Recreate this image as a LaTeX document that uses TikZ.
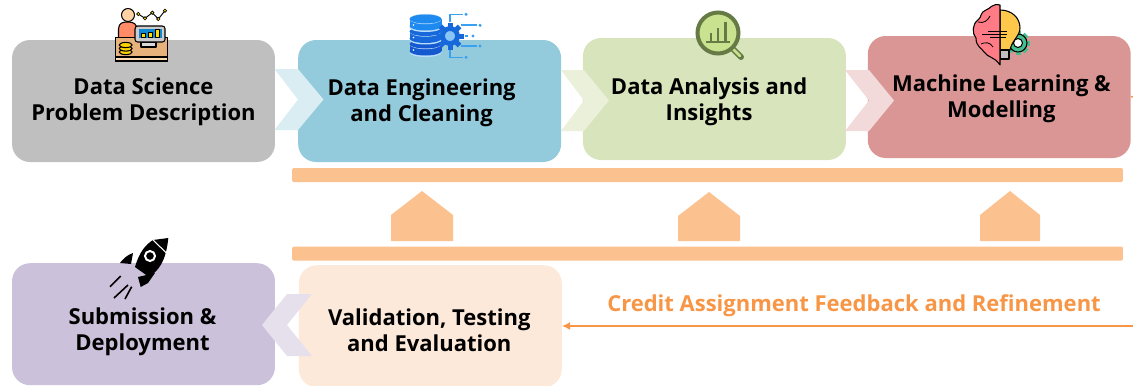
\documentclass[tikz,border=0pt]{standalone}
\usepackage{fontspec}
\setmainfont{Open Sans}
\usepackage{tikz}
\usetikzlibrary{positioning}
\usetikzlibrary{arrows.meta}
\definecolor{probBody}{HTML}{BFBFBF}
\definecolor{engBody}{HTML}{93CBDD}
\definecolor{anaBody}{HTML}{D8E4BC}
\definecolor{mlBody}{HTML}{DA9694}
\definecolor{subBody}{HTML}{CCC1DA}
\definecolor{valBody}{HTML}{FDE9D9}
\definecolor{loopBar}{HTML}{FBC290}
\definecolor{loopLine}{HTML}{F79646}
\definecolor{lensBorder}{HTML}{667A45}
\definecolor{lensBody}{HTML}{C8E28F}
\definecolor{brainBody}{HTML}{FF7B85}
\definecolor{bulbBody}{HTML}{FFC84A}
\definecolor{gearBody}{HTML}{45BE8F}
\definecolor{dbDark}{HTML}{1459D0}
\definecolor{dbLight}{HTML}{1E8AF0}
\definecolor{dbLine}{HTML}{3AA0F0}
\tikzstyle{stage} = [rectangle, rounded corners=13.5pt, minimum width=197.2pt, minimum height=91.5pt, inner sep=0pt]
\tikzstyle{stagetext} = [align=center, font={\fontsize{16.5}{19.5}\selectfont\bfseries}]
\tikzstyle{chevron} = [line width=0pt]
\tikzstyle{feedback} = [loopBar]
\tikzstyle{loopbar} = [rectangle, rounded corners=1pt, fill=loopBar, minimum width=623pt, minimum height=10.5pt, inner sep=0pt]
\tikzstyle{outline} = [draw=black, line width=0.8pt, line join=round]
\begin{document}
\begin{tikzpicture}[x=0.75pt, y=-0.75pt]
    \useasboundingbox (0,0) rectangle (1133,386);
    % stages
    \node [stage, fill=probBody, label={[stagetext, yshift=-0.75pt]center:Data Science\\Problem Description}] (problem) at (143.5,101) {};
    \node [stage, fill=engBody, right=17pt of problem, label={[stagetext, xshift=-6pt, yshift=-1.1pt]center:Data Engineering\\and Cleaning}] (engineering) {};
    \node [stage, fill=anaBody, right=16pt of engineering, yshift=1.5pt, label={[stagetext, xshift=-4pt, yshift=-2.2pt]center:Data Analysis and\\Insights}] (analysis) {};
    \node [stage, fill=mlBody, right=16pt of analysis, yshift=1.5pt, label={[stagetext, xshift=1.6pt, yshift=-1.5pt]center:Machine Learning \&\\Modelling}] (modelling) {};
    \node [stage, fill=subBody, below=75.5pt of problem, label={[stagetext, xshift=-0.75pt, yshift=-6pt]center:Submission \&\\Deployment}] (submission) {};
    \node [stage, fill=valBody, right=17.5pt of submission, yshift=-1.5pt, label={[stagetext, xshift=-0.75pt, yshift=-3pt]center:Validation, Testing\\and Evaluation}] (validation) {};
    % chevrons
    \fill [chevron, fill=engBody!35] (274.5,69) -- (298,69) -- (323.5,99.5) -- (298,130) -- (274.5,130) -- (298,99.5) -- cycle;
    \fill [chevron, fill=anaBody!55] (561,70) -- (584,70) -- (609,100.5) -- (584,131) -- (561,131) -- (584,100.5) -- cycle;
    \fill [chevron, fill=mlBody!35] (845,70) -- (869,70) -- (894,100.5) -- (869,131) -- (845,131) -- (869,100.5) -- cycle;
    \fill [chevron, fill=subBody!50] (312,294) -- (287,294) -- (262,325) -- (287,356) -- (312,356) -- (287,325) -- cycle;
    % feedback bars
    \node [loopbar] (bartop) at (707.5,175) {};
    \node [loopbar] (barbottom) at (707.5,253.5) {};
    \fill [feedback] (391,241) -- (391,215) -- (422,191) -- (453,215) -- (453,241) -- cycle;
    \fill [feedback] (678,241) -- (678,216) -- (709,192) -- (740,216) -- (740,241) -- cycle;
    \fill [feedback] (980,241) -- (980,215) -- (1010,191) -- (1040,215) -- (1040,241) -- cycle;
    \node [text=loopLine, font={\fontsize{16.5}{19}\selectfont\bfseries}] (credit) at (854,306) {Credit Assignment Feedback and Refinement};
    \coordinate (loopout) at (1133,96.5);
    \coordinate (loopin) at (1133,326);
    \draw [loopLine, line width=1.1pt] (modelling.east) -- (loopout);
    \draw [-{Latex[length=6pt,width=6pt]}, loopLine, line width=1.1pt] (loopin) -- (validation.east |- loopin);
    % data scientist icon
    \draw [outline, fill=orange!35!white] (128,15) circle (6.5);
    \draw [outline, fill=red!50!orange!60!white] (118.5,38) -- (118.5,29) .. controls (119,23) and (122,22) .. (128,22) .. controls (134,22) and (137,24) .. (137,30) -- (137,38) -- cycle;
    \draw [black, line width=0.7pt] (138.3,14) -- (145,18.3) -- (152.3,12.7) -- (158.3,19) -- (165,10.7);
    \foreach \dotx/\doty in {138.3/14,145/18.3,152.3/12.7,158.3/19,165/10.7}
        \draw [black, line width=0.5pt, fill=yellow!70!orange] (\dotx,\doty) circle (1.7);
    \draw [outline, fill=brown!60!orange!60!white] (115.5,37.5) rectangle (167.5,61);
    \draw [outline, fill=orange!30!white] (115.5,57) rectangle (167.5,61);
    \draw [outline, fill=gray!30] (141,42) rectangle (156,47);
    \draw [outline, fill=gray!40] (135,26) [rounded corners=2pt] rectangle (165,42);
    \fill [cyan!70!blue] (139,28.5) rectangle (161.5,38);
    \foreach \barx/\bary in {141/33,148/32.5,155.5/29}
        \draw [black, line width=0.4pt, fill=yellow!80!orange] (\barx,37.5) rectangle ++(4.2,\bary-37.5);
    \foreach \coiny in {52,48.5,45}
        \draw [outline, fill=yellow!70!orange] (125.7,\coiny) ellipse (6.5 and 2.6);
    % database icon
    \foreach \cyly/\cylcol in {44/dbDark, 31.5/dbDark!70!dbLight, 19/dbLight}{
        \fill [white!70!dbLight] (425.5,\cyly+8.5) ellipse (16 and 4.5);
        \fill [\cylcol] (425.5,\cyly+7) ellipse (16 and 4.5);
        \fill [\cylcol] (409.5,\cyly) rectangle (441.5,\cyly+7);
        \fill [white!70!dbLight] (425.5,\cyly) ellipse (16 and 5.2);
        \fill [\cylcol] (425.5,\cyly) ellipse (16 and 4.5);
    }
    \foreach \cyly in {25,37.5,50}
        \fill [white] (413.5,\cyly) circle (0.9);
    \draw [dbLine, line width=1pt] (450,22) -- (450,14.3) -- (463,14.3);
    \draw [dbLine, line width=1pt] (450,50) -- (450,57.3) -- (463,57.3);
    \draw [dbLine, line width=1pt] (461,25) -- (477,25);
    \draw [dbLine, line width=1pt] (465,36) -- (468,36);
    \draw [dbLine, line width=1pt] (461,46) -- (477,46);
    \foreach \dotx/\doty in {466/14.3,480/25.3,473/36,480/46,466/57.3}
        \fill [dbLine] (\dotx,\doty) circle (1.7);
    \foreach \toothang in {0,45,...,315}
        \fill [dbDark!70!dbLight, rotate around={\toothang:(450,36)}] (447.5,22.5) rectangle (452.5,30);
    \draw [dbDark!70!dbLight, line width=3.6pt, fill=dbLine!60!white] (450,36) circle (7.5);
    % magnifier icon
    \draw [line cap=round, line width=4.5pt, lensBorder] (732,48) -- (741,57);
    \draw [line cap=round, line width=2pt, lensBody] (733,49) -- (740,56);
    \draw [line width=3pt, draw=lensBorder, fill=lensBody] (718,33) circle (20.5);
    \draw [line width=2pt, draw=lensBorder] (706,42) -- (730,42)
        (711,42) -- (711,33) (718,42) -- (718,28) (725.6,42) -- (725.6,22);
    % brain and bulb icon
    \foreach \toothang in {0,45,...,315}
        \fill [gearBody, rotate around={\toothang:(1018,43)}] (1015.5,31) rectangle (1020.5,36);
    \draw [outline, fill=gearBody] (1018,43) circle (9);
    \draw [outline, fill=white] (1018,43) circle (4.5);
    \draw [outline, fill=bulbBody] (1000,10) .. controls (1012,10) and (1020,18) .. (1020,28) .. controls (1020,36) and (1012,40) .. (1010,50) -- (1000,50) -- cycle;
    \draw [outline, fill=gray!50] (1000,50) rectangle (1009,59);
    \draw [outline, fill=brainBody] (1000,5) .. controls (992,3) and (990,9) .. (986,10) .. controls (980,12) and (982,17) .. (978,20)
        .. controls (972,24) and (972,34) .. (976,38) .. controls (976,47) and (982,48) .. (984,52) .. controls (988,58) and (994,56) .. (1000,65) -- cycle;
    \draw [black, line width=0.7pt] (982,34) -- (1007,34) (988,31) -- (1007,31) (990,37) -- (1006,37);
    \draw [black, line width=0.6pt] (978,22) .. controls (984,24) and (988,20) .. (990,16) (981,44) .. controls (985,42) and (990,42) .. (993,47);
    % rocket icon
    \fill [black] (133,253) .. controls (127,255) and (123,259) .. (120,263) -- (131,264) -- cycle;
    \fill [black] (155,273) -- (148,283) -- (140.7,287) -- (138,277) -- cycle;
    \fill [black] (168.3,238) -- (153,240) .. controls (145,245) and (139,253) .. (135,267) -- (149,277)
        .. controls (158,271) and (166,262) .. (168.3,238) -- cycle;
    \draw [white, line width=0.8pt] (153,240) -- (167.5,254);
    \draw [white, line width=1.5pt] (150,256) circle (5);
    \draw [black, line width=1.2pt] (110,286.7) -- (120.7,276) (114,298) -- (128,285) (125,299) -- (131.7,286.7);
\end{tikzpicture}
\end{document}
